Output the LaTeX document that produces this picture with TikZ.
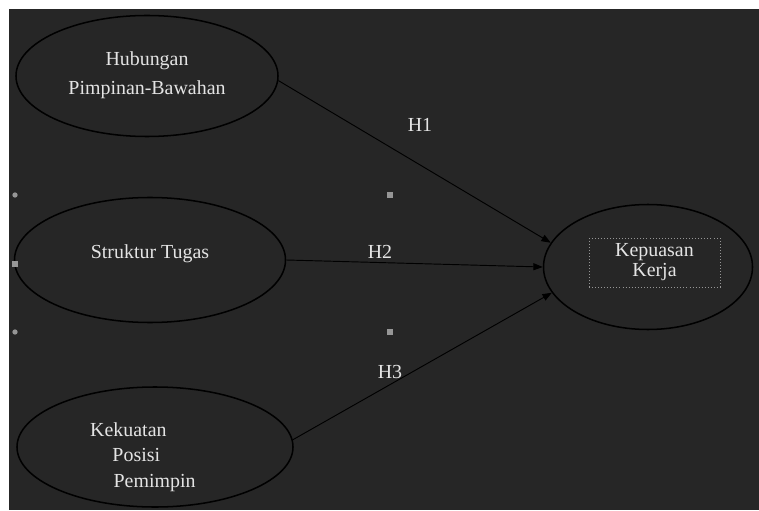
\documentclass[tikz,border=0pt]{standalone}
\usepackage{fontspec}
\setmainfont{Liberation Serif}
\usetikzlibrary{shapes.geometric,arrows.meta,positioning}
\definecolor{slidebg}{RGB}{38,38,38}
\definecolor{slidetxt}{RGB}{228,228,228}
\definecolor{handle}{RGB}{150,150,150}

\begin{document}
\begin{tikzpicture}[x=0.03cm,y=-0.03cm,
  var/.style={draw=black,line width=1.3pt,ellipse,inner sep=0pt},
  lbl/.style={text=slidetxt,font=\fontsize{17}{24.5}\selectfont,align=center,inner sep=0pt},
  hyp/.style={text=slidetxt,font=\fontsize{17}{20}\selectfont,inner sep=0pt},
  arr/.style={-{Triangle[length=8pt,width=6pt]},black,line width=0.8pt},
  hdl/.style={fill=handle,draw=none,inner sep=0pt,minimum size=4.5pt}
]
\useasboundingbox (0,0) rectangle (759,511);
\fill[white] (0,0) rectangle (759,511);
\fill[slidebg] (9,9) rectangle (759,510);

% variables
\node[var,minimum width=7.86cm,minimum height=3.63cm] (hub)  at (147,76)  {};
\node[var,minimum width=8.13cm,minimum height=3.75cm] (str)  at (150,260) {};
\node[var,minimum width=8.28cm,minimum height=3.6cm]  (kek)  at (155,447) {};
\node[var,minimum width=6.27cm,minimum height=3.75cm] (kep)  at (648,267) {};

\node[lbl] (hubtxt) at (147,75)  {Hubungan\\Pimpinan-Bawahan};
\node[lbl] (strtxt) at (150,254) {Struktur Tugas};
\node[lbl,align=left,anchor=west,font=\fontsize{17}{22}\selectfont] (kektxt) at (90,457)
  {Kekuatan\\\hspace{19pt}Posisi\\\hspace{20pt}Pemimpin};
\node[lbl,draw=handle,dotted,line width=0.6pt,font=\fontsize{17}{17}\selectfont,
      minimum width=3.93cm,minimum height=1.47cm] (keptxt) at (654.5,262.5) {Kepuasan\\Kerja};

% hypotheses
\draw[arr] (hub.-2) -- (kep.166);
\draw[arr] (str.east) -- (kep.west);
\draw[arr] (kek.3) -- (kep.195);

\node[hyp] (h1) at (420,125) {H1};
\node[hyp] (h2) at (380,252) {H2};
\node[hyp] (h3) at (390,372) {H3};

% selection handles
\node[hdl,circle]    (hc1) at (15,195)  {};
\node[hdl,rectangle] (hs1) at (15,264)  {};
\node[hdl,circle]    (hc2) at (15,332)  {};
\node[hdl,rectangle] (hs2) at (390,195) {};
\node[hdl,rectangle] (hs3) at (390,332) {};
\end{tikzpicture}
\end{document}
